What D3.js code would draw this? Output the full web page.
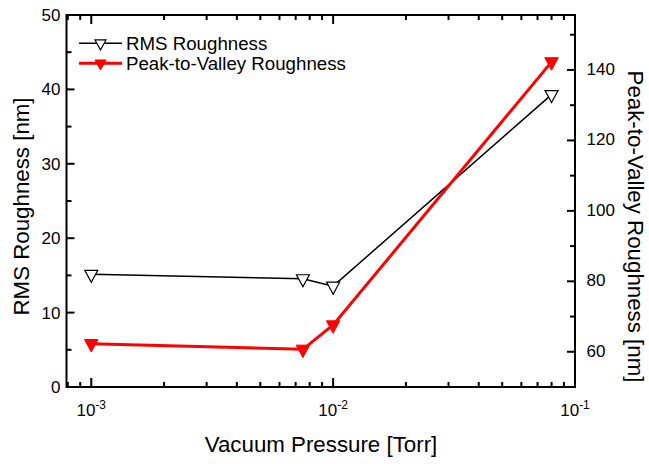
<!DOCTYPE html>
<html>
<head>
<meta charset="utf-8">
<script src="https://cdn.jsdelivr.net/npm/d3@7"></script>
<style>
  body { margin: 0; background: #fff; }
  svg { display: block; }
  text { font-family: "Liberation Sans", Arial, sans-serif; fill: #000; }
</style>
</head>
<body>
<svg id="chart" width="649" height="464"></svg>
<script>
// ---- data ----
const pressure = [0.001, 0.0075, 0.01, 0.08];           // Torr
const rmsRoughness = [15.15, 14.55, 13.55, 39.3];        // nm (left axis)
const pvRoughness = [62.3, 60.7, 67.6, 142.3];           // nm (right axis)
const seriesNames = ["RMS Roughness", "Peak-to-Valley Roughness"];
const xMajorTicks = [0.001, 0.01, 0.1];
const xTickExponents = ["-3", "-2", "-1"];
const xMinorTicks = [0.0008, 0.0009, 0.002, 0.003, 0.004, 0.005, 0.006, 0.007, 0.008, 0.009,
                     0.02, 0.03, 0.04, 0.05, 0.06, 0.07, 0.08, 0.09];
const yLeftMajor = [0, 10, 20, 30, 40, 50];
const yLeftMinor = [5, 15, 25, 35, 45];
const yRightMajor = [60, 80, 100, 120, 140];
const yRightMinor = [70, 90, 110, 130, 150];
const xTitle = "Vacuum Pressure [Torr]";
const yLeftTitle = "RMS Roughness [nm]";
const yRightTitle = "Peak-to-Valley Roughness [nm]";

// ---- layout ----
const L = 66.5, R = 575, T = 15, B = 387;
const svg = d3.select("#chart");

const x = d3.scaleLog().domain([0.00079, 0.1]).range([L, R]);
const yL = d3.scaleLinear().domain([0, 50]).range([B, T]);
const yR = d3.scaleLinear().domain([50, 155.6]).range([B, T]);

const tickFont = 17;
const titleFont = 22.3;
const legendFont = 18.7;
const axisColor = "#000";

// ticks (inward)
const g = svg.append("g");
function vtick(xp, y0, len) {
  g.append("line").attr("x1", xp).attr("x2", xp).attr("y1", y0).attr("y2", y0 + len)
    .attr("stroke", axisColor).attr("stroke-width", 2);
}
function htick(yp, x0, len) {
  g.append("line").attr("x1", x0).attr("x2", x0 + len).attr("y1", yp).attr("y2", yp)
    .attr("stroke", axisColor).attr("stroke-width", 2);
}
xMajorTicks.forEach(v => { vtick(x(v), B, -9); vtick(x(v), T, 9); });
xMinorTicks.forEach(v => { vtick(x(v), B, -5); vtick(x(v), T, 5); });
yLeftMajor.forEach(v => htick(yL(v), L, 8));
yLeftMinor.forEach(v => htick(yL(v), L, 5));
yRightMajor.forEach(v => htick(yR(v), R, -8));
yRightMinor.forEach(v => htick(yR(v), R, -5));

// frame
svg.append("rect").attr("x", L).attr("y", T).attr("width", R - L).attr("height", B - T)
  .attr("fill", "none").attr("stroke", axisColor).attr("stroke-width", 2);

// tick labels
yLeftMajor.forEach(v => {
  svg.append("text").attr("x", L - 6).attr("y", yL(v) + 6)
    .attr("text-anchor", "end").attr("font-size", tickFont).text(v);
});
yRightMajor.forEach(v => {
  svg.append("text").attr("x", R + 11.5).attr("y", yR(v) + 5)
    .attr("text-anchor", "start").attr("font-size", tickFont).text(v);
});
xMajorTicks.forEach((v, i) => {
  const t = svg.append("text").attr("x", x(v)).attr("y", 416)
    .attr("text-anchor", "middle").attr("font-size", tickFont);
  t.append("tspan").text("10");
  t.append("tspan").attr("dy", -7.5).attr("font-size", 12).text(xTickExponents[i]);
});

// axis titles
svg.append("text").attr("x", 321).attr("y", 451.5)
  .attr("text-anchor", "middle").attr("font-size", titleFont).text(xTitle);
svg.append("text").attr("transform", `translate(29,${206.5}) rotate(-90)`)
  .attr("text-anchor", "middle").attr("font-size", titleFont).text(yLeftTitle);
svg.append("text").attr("transform", `translate(627.5,${226.5}) rotate(90)`)
  .attr("text-anchor", "middle").attr("font-size", titleFont).text(yRightTitle);

// triangle-down path, centered on centroid
function tri(w, h) {
  return `M${-w / 2},${-h / 3}L${w / 2},${-h / 3}L0,${2 * h / 3}Z`;
}

// series lines
const rmsPts = pressure.map((p, i) => [x(p), yL(rmsRoughness[i])]);
const pvPts = pressure.map((p, i) => [x(p), yR(pvRoughness[i])]);
const line = d3.line();
svg.append("path").attr("d", line(rmsPts)).attr("fill", "none")
  .attr("stroke", "#000").attr("stroke-width", 1.5);
svg.append("path").attr("d", line(pvPts)).attr("fill", "none")
  .attr("stroke", "#ff0000").attr("stroke-width", 3);

// markers
svg.selectAll(".m1").data(rmsPts).enter().append("path")
  .attr("transform", d => `translate(${d[0]},${d[1]})`)
  .attr("d", tri(13, 12)).attr("fill", "#fff").attr("stroke", "#000").attr("stroke-width", 1.2);
svg.selectAll(".m2").data(pvPts).enter().append("path")
  .attr("transform", d => `translate(${d[0]},${d[1]})`)
  .attr("d", tri(13.5, 12.5)).attr("fill", "#ff0000").attr("stroke", "#ff0000").attr("stroke-width", 1);

// legend
const legY = [43.3, 63.3];
const legColors = ["#000", "#ff0000"];
const legW = [1.5, 3];
seriesNames.forEach((name, i) => {
  svg.append("line").attr("x1", 79).attr("x2", 122).attr("y1", legY[i]).attr("y2", legY[i])
    .attr("stroke", legColors[i]).attr("stroke-width", legW[i]);
  svg.append("path").attr("transform", `translate(100.5,${legY[i]})`)
    .attr("d", tri(11, 10))
    .attr("fill", i === 0 ? "#fff" : "#ff0000")
    .attr("stroke", legColors[i]).attr("stroke-width", i === 0 ? 1.2 : 1);
  svg.append("text").attr("x", 126).attr("y", legY[i] + 6.3)
    .attr("font-size", legendFont).text(name);
});
</script>
</body>
</html>
